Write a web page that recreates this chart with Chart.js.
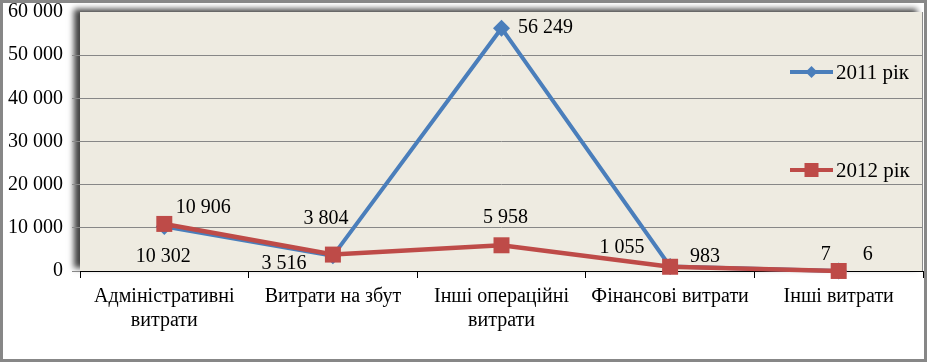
<!DOCTYPE html>
<html><head><meta charset="utf-8">
<script src="https://cdn.jsdelivr.net/npm/chart.js@4"></script>
<style>html,body{margin:0;padding:0;background:#fff}</style>
</head><body>
<canvas id="c" width="927" height="362" style="display:block;width:927px;height:362px"></canvas>
<script>
const categories = [['Адміністративні','витрати'], 'Витрати на збут', ['Інші операційні','витрати'], 'Фінансові витрати', 'Інші витрати'];
const seriesNames = ['2011 рік', '2012 рік'];
const values2011 = [10302, 3516, 56249, 1055, 7];
const values2012 = [10906, 3804, 5958, 983, 6];
const yTickValues = [0, 10000, 20000, 30000, 40000, 50000, 60000];

const FONT = '"Liberation Serif", "Times New Roman", serif';
const BLUE = '#4A7EBB';
const RED = '#BE4B48';

function fmt(n){ return String(n).replace(/\B(?=(\d{3})+(?!\d))/g, ' '); }

// label placement (style): offsets from each point
const labelOffsets = [
  [[-1,30],[-49,8],[44,0],[-48,-19],[-13,-16]],
  [[39,-16],[-7,-36],[4,-28],[35,-10],[29,-16]]
];

const bgPlugin = {
  id:'bg',
  beforeDraw(chart){
    const {ctx, chartArea:a, width, height} = chart;
    ctx.save();
    ctx.fillStyle = '#fff';
    ctx.fillRect(0,0,width,height);
    ctx.shadowColor = 'rgba(0,0,0,0.75)';
    ctx.shadowBlur = 6;
    ctx.shadowOffsetX = -6;
    ctx.shadowOffsetY = -3;
    ctx.fillStyle = '#EEEBE1';
    ctx.fillRect(a.left, a.top, a.right - a.left, a.bottom - a.top);
    ctx.restore();
  },
  afterDraw(chart){
    const {ctx, chartArea:a, width, height} = chart;
    ctx.save();
    ctx.strokeStyle = '#8a8a8a';
    ctx.lineWidth = 1;
    ctx.beginPath();
    ctx.moveTo(a.right - 0.5, a.top);
    ctx.lineTo(a.right - 0.5, a.bottom);
    ctx.stroke();
    ctx.strokeStyle = '#878787';
    ctx.lineWidth = 3;
    ctx.strokeRect(1.5, 1.5, width - 3, height - 3);
    const entries = [
      {name: seriesNames[0], color: BLUE, shape: 'diamond', y: a.top + 60},
      {name: seriesNames[1], color: RED, shape: 'square', y: a.top + 158}
    ];
    ctx.font = '21px ' + FONT;
    ctx.textBaseline = 'middle';
    ctx.textAlign = 'left';
    entries.forEach(e => {
      const x0 = a.right - 133, x1 = a.right - 90, xm = (x0 + x1) / 2;
      ctx.strokeStyle = e.color;
      ctx.lineWidth = 4;
      ctx.beginPath(); ctx.moveTo(x0, e.y); ctx.lineTo(x1, e.y); ctx.stroke();
      ctx.fillStyle = e.color;
      ctx.beginPath();
      if (e.shape === 'diamond') {
        ctx.moveTo(xm, e.y - 6); ctx.lineTo(xm + 6, e.y); ctx.lineTo(xm, e.y + 6); ctx.lineTo(xm - 6, e.y);
      } else {
        ctx.rect(xm - 7, e.y - 7, 14, 14);
      }
      ctx.fill();
      ctx.fillStyle = '#000';
      ctx.fillText(e.name, a.right - 87, e.y + 1);
    });
    ctx.restore();
  }
};

const labelPlugin = {
  id:'vlabels',
  afterDatasetsDraw(chart){
    const {ctx} = chart;
    ctx.save();
    ctx.font = '20px ' + FONT;
    ctx.fillStyle = '#000';
    ctx.textAlign = 'center';
    ctx.textBaseline = 'middle';
    chart.data.datasets.forEach((ds, di) => {
      const meta = chart.getDatasetMeta(di);
      meta.data.forEach((pt, i) => {
        const off = labelOffsets[di][i];
        ctx.fillText(fmt(ds.data[i]), pt.x + off[0], pt.y + off[1]);
      });
    });
    ctx.restore();
  }
};

new Chart(document.getElementById('c'), {
  type: 'line',
  data: {
    labels: categories,
    datasets: [
      {label: seriesNames[0], data: values2011, borderColor: BLUE, backgroundColor: BLUE,
       borderWidth: 4, pointStyle: 'rectRot', pointRadius: 8.5, pointHoverRadius: 8.5,
       pointBorderWidth: 0, tension: 0, clip: false, order: 2},
      {label: seriesNames[1], data: values2012, borderColor: RED, backgroundColor: RED,
       borderWidth: 4.5, pointStyle: 'rect', pointRadius: 11.3, pointHoverRadius: 11.3,
       pointBorderWidth: 0, tension: 0, clip: false, order: 1}
    ]
  },
  options: {
    responsive: false,
    animation: false,
    devicePixelRatio: 1,
    layout: {autoPadding: false, padding: {top: 12, right: 4, left: 0, bottom: 0}},
    plugins: {legend: {display: false}, tooltip: {enabled: false}},
    scales: {
      x: {
        offset: true,
        grid: {offset: true, drawOnChartArea: false, drawTicks: true, tickLength: 7, color: '#000', lineWidth: 1},
        border: {display: true, color: '#000', width: 1},
        ticks: {font: {family: FONT, size: 20, lineHeight: 1.2}, color: '#000', maxRotation: 0, autoSkip: false, padding: 7},
        afterFit(s){ s.height = 91; s.paddingLeft = 0; s.paddingRight = 0; }
      },
      y: {
        min: 0, max: 60000,
        afterBuildTicks(s){ s.ticks = yTickValues.map(v => ({value: v})); },
        grid: {color: ctx => ctx.tick && ctx.tick.value === 60000 ? 'rgba(0,0,0,0)' : '#878787', lineWidth: 1, tickLength: 8, drawTicks: true},
        border: {display: false},
        ticks: {font: {family: FONT, size: 20, lineHeight: 0.2}, color: '#000', padding: 9, callback: v => fmt(v)},
        afterFit(s){ s.width = 80; s.paddingTop = 0; s.paddingBottom = 0; }
      }
    }
  },
  plugins: [bgPlugin, labelPlugin]
});
</script>
</body></html>
